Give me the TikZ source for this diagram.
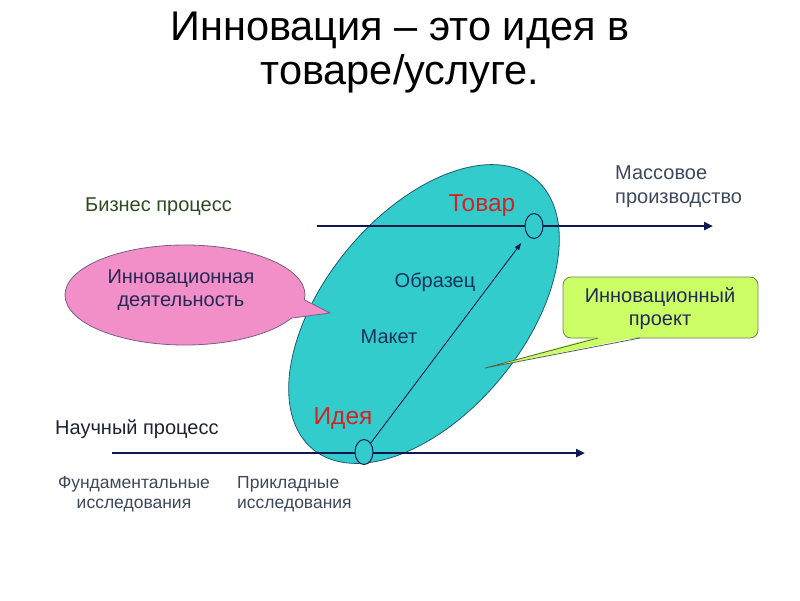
\documentclass[tikz,border=0pt]{standalone}
\usepackage{fontspec}
\setmainfont{Liberation Sans}
\usetikzlibrary{shapes.geometric,shapes.callouts,arrows.meta}
\definecolor{navy}{RGB}{16,24,80}
\definecolor{cyanfill}{RGB}{51,204,204}
\definecolor{ovalline}{RGB}{30,90,110}
\definecolor{pinkfill}{RGB}{242,143,200}
\definecolor{pinkline}{RGB}{120,95,135}
\definecolor{limefill}{RGB}{204,255,102}
\definecolor{limeline}{RGB}{110,130,80}
\definecolor{ideared}{RGB}{210,35,35}
\definecolor{bizgreen}{RGB}{45,75,35}
\definecolor{labelnavy}{RGB}{25,50,90}
\definecolor{callnavy}{RGB}{35,40,85}
\definecolor{graytext}{RGB}{60,72,92}
\definecolor{darktext}{RGB}{30,35,50}
\begin{document}
\begin{tikzpicture}[x=1pt,y=-1pt,
  proc/.style={line width=2.7pt, draw=navy, -{Triangle[length=9pt,width=8pt]}},
  diag/.style={line width=0.9pt, draw=navy, -{Triangle[length=7pt,width=5pt]}, shorten >=10pt},
  dot/.style={ellipse, draw=navy, line width=1pt, fill=cyanfill, minimum width=18pt, minimum height=25pt, inner sep=0pt},
  body/.style={font=\fontsize{20}{23.5}\selectfont, inner sep=0pt},
  small/.style={font=\fontsize{17.5}{20}\selectfont, inner sep=0pt, text=graytext},
  red/.style={font=\fontsize{24.5}{28}\selectfont, inner sep=0pt, text=ideared},
  titletext/.style={font=\fontsize{41.5}{45}\selectfont, inner sep=0pt, text=black, anchor=base},
]
\useasboundingbox (0,0) rectangle (800,600);
\fill[white] (0,0) rectangle (800,600);

% title
\node[titletext] (title1) at (400,40) {Инновация – это идея в};
\node[titletext] (title2) at (400,84) {товаре/услуге.};

% big oval
\node[ellipse, draw=ovalline, line width=0.8pt, fill=cyanfill, minimum width=350pt,
  minimum height=200pt, rotate=50.6, inner sep=0pt] (oval) at (424,314) {};

% process lines
\coordinate (b0) at (317,226);
\coordinate (b1) at (713,226);
\coordinate (s0) at (112,453);
\coordinate (s1) at (585,453);
\draw[proc] (b0) -- (b1);
\draw[proc] (s0) -- (s1);
\node[dot] (tdot) at (534,226) {};
\node[dot] (idot) at (364,452) {};
\draw[diag] (idot) -- (tdot);

% pink callout
\node[ellipse callout, draw=pinkline, line width=0.8pt, fill=pinkfill, minimum width=240pt,
  minimum height=100pt, callout absolute pointer={(330,313)}, callout pointer arc=22, inner sep=0pt]
  (pinkc) at (185,295) {};
\node[body, text=callnavy, align=center] (pinktext) at (181,290) {Инновационная\\деятельность};

% green callout
\node[draw=limeline, line width=0.8pt, fill=limefill, rounded corners=8pt, minimum width=195pt,
  minimum height=61pt, inner sep=0pt] (projbox) at (660.5,307.5) {};
\coordinate (tailtip) at (485,368);
\fill[limefill] (598,336.5) -- (tailtip) -- (640,336.5) -- cycle;
\draw[limeline!70!navy, line width=0.8pt] (598,338) -- (tailtip) -- (640,338);
\node[body, text=callnavy, align=center] (projtext) at (660,308.5) {Инновационный\\проект};

% labels
\node[body, text=bizgreen, anchor=base west] (biz) at (85,211) {Бизнес процесс};
\node[body, text=darktext, anchor=base west] (sci) at (55,434) {Научный процесс};
\node[body, text=graytext, align=left, anchor=west] (mass) at (615,186.5) {Массовое\\производство};
\node[red, anchor=base] (tovar) at (482,211) {Товар};
\node[red, anchor=base] (idea) at (343,424) {Идея};
\node[body, text=labelnavy, anchor=base] (obr) at (435,287) {Образец};
\node[body, text=labelnavy, anchor=base] (maket) at (389,343) {Макет};
\node[small, align=center] (fund) at (134,494.5) {Фундаментальные\\исследования};
\node[small, align=left, anchor=west] (prik) at (237,494.5) {Прикладные\\исследования};
\end{tikzpicture}
\end{document}
